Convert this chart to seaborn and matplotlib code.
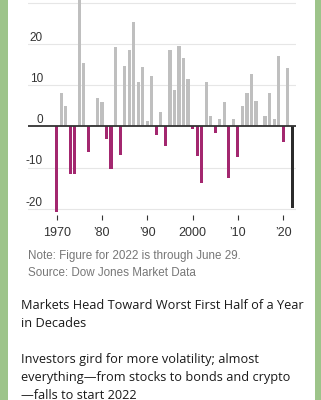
import matplotlib
matplotlib.use("Agg")
import matplotlib.pyplot as plt
from matplotlib.patches import Rectangle
import seaborn as sns
import pandas as pd

# ---- data (S&P 500 first-half change, %) ----
years = list(range(1970, 2023))
values = [-20.8, 8.2, 4.9, -11.6, -11.6, 38.8, 15.4, -6.3, 0.2, 6.9,
          5.8, -3.2, -10.4, 19.3, -7.0, 14.6, 18.5, 25.2, 10.7, 14.3,
          1.3, 12.1, -2.1, 3.4, -4.7, 18.5, 8.7, 19.4, 16.7, 11.6,
          -0.7, -7.1, -13.7, 10.7, 2.6, -1.7, 1.7, 5.8, -12.6, 1.7,
          -7.4, 4.9, 8.2, 12.6, 6.1, 0.2, 2.6, 8.2, 1.7, 17.1,
          -3.9, 14.2, -19.8]
xtick_years = [1970, 1980, 1990, 2000, 2010, 2020]
xtick_labels = ["1970", "\u201980", "\u201990", "2000", "\u201910", "\u201920"]
grid_values = [-20, -10, 10, 20, 30]
ytick_values = [-20, -10, 0, 10, 20]
ytick_labels = ["-20", "-10", "0", "10", "20"]
note_text = "Note: Figure for 2022 is through June 29."
source_text = "Source: Dow Jones Market Data"
title_lines = ["Markets Head Toward Worst First Half of a Year", "in Decades"]
sub_lines = ["Investors gird for more volatility; almost",
             "everything\u2014from stocks to bonds and crypto",
             "\u2014falls to start 2022"]

groups = ["cur" if y == 2022 else ("neg" if v < 0 else "pos")
          for y, v in zip(years, values)]
df = pd.DataFrame({"year": years, "value": values, "group": groups})
palette = {"pos": "#bfbfbf", "neg": "#a3276f", "cur": "#2b2b2b"}

W, H = 321, 400
fig = plt.figure(figsize=(W / 100, H / 100), dpi=100, facecolor="#9dc48a")
fig.patches.append(Rectangle((8 / W, 0), 307 / W, 1, transform=fig.transFigure,
                             facecolor="white", edgecolor="none", zorder=-5))


def fy(px):
    return 1 - px / H


ax_left, ax_right, ax_bottom_px = 28, 296, 215
ax = fig.add_axes([ax_left / W, fy(ax_bottom_px), (ax_right - ax_left) / W, ax_bottom_px / H])
ax.set_facecolor("none")
ax.set_zorder(2)

sns.barplot(data=df, x="year", y="value", hue="group", palette=palette,
            dodge=False, width=0.7, legend=False, ax=ax, zorder=2,
            saturation=1)

ax.set_xlim(-6.34, 52.83)
ax.set_ylim(-21.53, 30.66)

for v in grid_values:
    ax.axhline(v, color="#e6e6e6", lw=0.8, zorder=0)
ax.axhline(0, color="#333333", lw=1.3, zorder=4)

tick_font = ["Liberation Sans Narrow", "Liberation Sans"]
ytrans = ax.get_yaxis_transform()
for v, lab in zip(ytick_values, ytick_labels):
    ax.text((43 - ax_left) / (ax_right - ax_left), v + 0.75, lab, transform=ytrans,
            ha="right", va="baseline", fontsize=8.5, family=tick_font,
            color="#333333")

ax.set_xticks([years.index(y) for y in xtick_years])
ax.set_xticklabels(xtick_labels, fontsize=9, family=tick_font, color="#333333")
ax.tick_params(axis="x", length=3.5, width=0.8, color="#333333", pad=5.5)
ax.set_yticks([])
ax.set_xlabel("")
ax.set_ylabel("")
for s in ax.spines.values():
    s.set_visible(False)

fig.text(28 / W, fy(259.3), note_text, fontsize=8.4, family="Liberation Sans",
         color="#777777", va="baseline")
fig.text(28 / W, fy(276.0), source_text, fontsize=8.4, family="Liberation Sans",
         color="#777777", va="baseline")

for i, line in enumerate(title_lines):
    fig.text(21 / W, fy(309.3 + 17.4 * i), line, fontsize=9.15, family="Open Sans",
             color="#1a1a1a", va="baseline")
for i, line in enumerate(sub_lines):
    fig.text(21 / W, fy(362.7 + 18.0 * i), line, fontsize=9.15, family="Open Sans",
             color="#1a1a1a", va="baseline")

fig.savefig("out.png", dpi=100, facecolor=fig.get_facecolor())
